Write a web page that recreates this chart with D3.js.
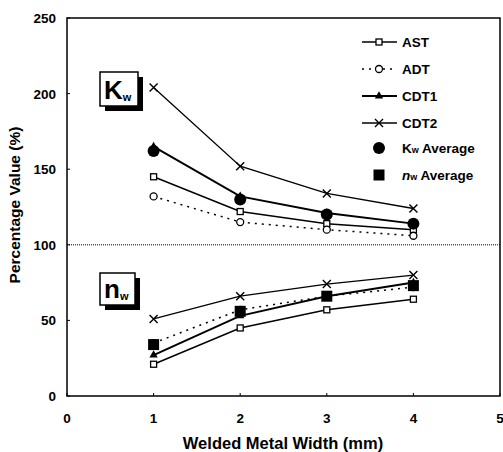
<!DOCTYPE html>
<html>
<head>
<meta charset="utf-8">
<script src="https://cdn.jsdelivr.net/npm/d3@7"></script>
<style>
  body { margin: 0; background: #fff; }
  text { font-family: Arial, "Liberation Sans", sans-serif; font-weight: bold; }
</style>
</head>
<body>
<svg id="chart" width="503" height="452"></svg>
<script>
// widths in mm
const widths = [1, 2, 3, 4];
// Kw values (%)
const kwAST = [145, 122, 114, 110];
const kwADT = [132, 115, 110, 106];
const kwCDT1 = [165, 132, 121, 114];
const kwCDT2 = [204, 152, 134, 124];
const kwAvg = [162, 130, 120, 114];
// nw values (%)
const nwAST = [21, 45, 57, 64];
const nwADT = [35, 57, 66, 72];
const nwCDT1 = [27, 53, 66, 75];
const nwCDT2 = [51, 66, 74, 80];
const nwAvg = [34, 56, 66, 73];
const xTicks = [0, 1, 2, 3, 4, 5];
const yTicks = [0, 50, 100, 150, 200, 250];

const svg = d3.select("#chart");
// plot area edges
const pLeft = 67, pRight = 500, pTop = 18, pBottom = 396;

const x = d3.scaleLinear().domain([0, 5]).range([pLeft, pRight]);
const y = d3.scaleLinear().domain([0, 250]).range([pBottom, pTop]);

// frame
svg.append("rect")
  .attr("x", pLeft).attr("y", pTop)
  .attr("width", pRight - pLeft).attr("height", pBottom - pTop)
  .attr("fill", "none").attr("stroke", "#000").attr("stroke-width", 1.5);

// y ticks (inside)
svg.selectAll(".ytick").data(yTicks).enter().append("line")
  .attr("x1", pLeft).attr("x2", pLeft + 3)
  .attr("y1", d => y(d)).attr("y2", d => y(d))
  .attr("stroke", "#000");
svg.selectAll(".ylab").data(yTicks).enter().append("text")
  .attr("x", pLeft - 11).attr("y", d => y(d) + 5)
  .attr("text-anchor", "end").attr("font-size", 13.5)
  .text(d => d);

// x ticks
svg.selectAll(".xtick").data(xTicks).enter().append("line")
  .attr("x1", d => x(d)).attr("x2", d => x(d))
  .attr("y1", pBottom).attr("y2", pBottom - 3)
  .attr("stroke", "#000");
svg.selectAll(".xlab").data(xTicks).enter().append("text")
  .attr("x", d => x(d)).attr("y", 423)
  .attr("text-anchor", "middle").attr("font-size", 13.5)
  .text(d => d);

// axis titles
svg.append("text")
  .attr("x", 283).attr("y", 449)
  .attr("text-anchor", "middle").attr("font-size", 16.5)
  .text("Welded Metal Width (mm)");
svg.append("text")
  .attr("transform", "translate(20, 205) rotate(-90)")
  .attr("text-anchor", "middle").attr("font-size", 15.5)
  .text("Percentage Value (%)");

// 100% reference line
svg.append("line")
  .attr("x1", pLeft).attr("x2", pRight)
  .attr("y1", y(100)).attr("y2", y(100))
  .attr("stroke", "#000").attr("stroke-width", 1)
  .attr("stroke-dasharray", "1,1");

const line = d3.line().x(d => x(d[0])).y(d => y(d[1]));
const pairs = vals => widths.map((w, i) => [w, vals[i]]);

// draw a marker shape at (cx, cy)
function marker(g, type, cx, cy) {
  if (type === "square") {
    g.append("rect").attr("x", cx - 3).attr("y", cy - 3).attr("width", 6).attr("height", 6)
      .attr("fill", "#fff").attr("stroke", "#000").attr("stroke-width", 1.3);
  } else if (type === "circle") {
    g.append("circle").attr("cx", cx).attr("cy", cy).attr("r", 3.5)
      .attr("fill", "#fff").attr("stroke", "#000").attr("stroke-width", 1.3);
  } else if (type === "triangle") {
    g.append("path").attr("d", d3.symbol(d3.symbolTriangle, 30)())
      .attr("transform", `translate(${cx},${cy})`).attr("fill", "#000");
  } else if (type === "cross") {
    g.append("path").attr("d", `M${cx - 4},${cy - 4}L${cx + 4},${cy + 4}M${cx - 4},${cy + 4}L${cx + 4},${cy - 4}`)
      .attr("stroke", "#000").attr("stroke-width", 1.4);
  } else if (type === "bigcircle") {
    g.append("circle").attr("cx", cx).attr("cy", cy).attr("r", 6).attr("fill", "#000");
  } else if (type === "bigsquare") {
    g.append("rect").attr("x", cx - 5.5).attr("y", cy - 5.5).attr("width", 11).attr("height", 11)
      .attr("fill", "#000");
  }
}

const series = [
  { name: "AST", k: kwAST, n: nwAST, m: "square", dash: null, w: 1.5 },
  { name: "ADT", k: kwADT, n: nwADT, m: "circle", dash: "2,5", w: 1.5 },
  { name: "CDT1", k: kwCDT1, n: nwCDT1, m: "triangle", dash: null, w: 2 },
  { name: "CDT2", k: kwCDT2, n: nwCDT2, m: "cross", dash: null, w: 1.3 }
];

const plot = svg.append("g");
series.forEach(s => {
  [s.k, s.n].forEach(vals => {
    plot.append("path").datum(pairs(vals))
      .attr("d", line).attr("fill", "none")
      .attr("stroke", "#000").attr("stroke-width", s.w)
      .attr("stroke-dasharray", s.dash);
  });
});

series.forEach(s => {
  [s.k, s.n].forEach(vals => {
    pairs(vals).forEach(p => marker(plot, s.m, x(p[0]), y(p[1])));
  });
});

// averages drawn on top
pairs(kwAvg).forEach(p => marker(plot, "bigcircle", x(p[0]), y(p[1])));
pairs(nwAvg).forEach(p => marker(plot, "bigsquare", x(p[0]), y(p[1])));

// Kw / nw label boxes with shadow
function labelBox(bx, by, bw, bh, main) {
  svg.append("rect").attr("x", bx + 5).attr("y", by + 5).attr("width", bw).attr("height", bh).attr("fill", "#000");
  svg.append("rect").attr("x", bx).attr("y", by).attr("width", bw).attr("height", bh)
    .attr("fill", "#fff").attr("stroke", "#000").attr("stroke-width", 1.5);
  const t = svg.append("text").attr("x", bx + 4).attr("y", by + bh - 7).attr("font-size", 26);
  t.append("tspan").text(main);
  t.append("tspan").attr("font-size", 11).attr("dy", 2).text("w");
}
labelBox(100, 72, 38, 34, "K");
labelBox(100, 273, 35, 32, "n");

// legend
const legend = svg.append("g");
const rowsY = [42, 69, 96, 123, 148, 175];
series.forEach((s, i) => {
  const ly = rowsY[i];
  legend.append("line").attr("x1", 362).attr("x2", 397).attr("y1", ly).attr("y2", ly)
    .attr("stroke", "#000").attr("stroke-width", s.w).attr("stroke-dasharray", s.dash);
  marker(legend, s.m, 379, ly);
  legend.append("text").attr("x", 402).attr("y", ly + 5).attr("font-size", 13.5).text(s.name);
});
marker(legend, "bigcircle", 379, rowsY[4]);
const t1 = legend.append("text").attr("x", 402).attr("y", rowsY[4] + 5).attr("font-size", 13.5);
t1.append("tspan").text("K");
t1.append("tspan").attr("font-size", 9).text("w");
t1.append("tspan").text(" Average");
marker(legend, "bigsquare", 379, rowsY[5]);
const t2 = legend.append("text").attr("x", 402).attr("y", rowsY[5] + 5).attr("font-size", 13.5);
t2.append("tspan").attr("font-style", "italic").text("n");
t2.append("tspan").attr("font-size", 9).text("w");
t2.append("tspan").text(" Average");
</script>
</body>
</html>
